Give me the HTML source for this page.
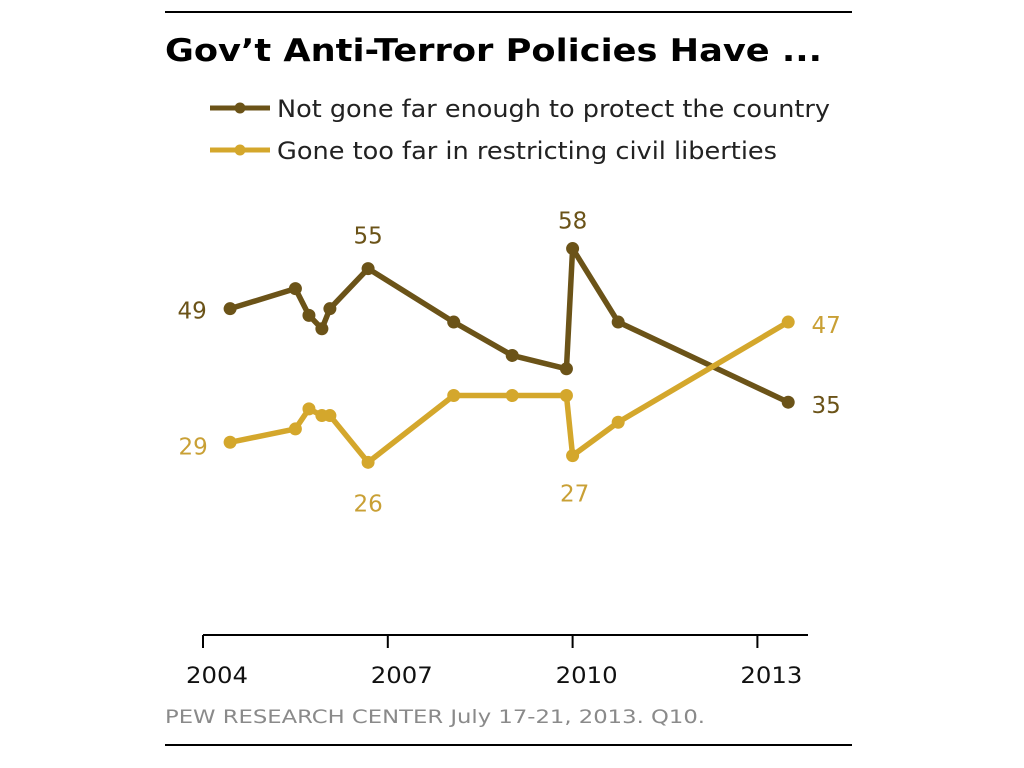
<!DOCTYPE html>
<html><head><meta charset="utf-8"><style>
body{margin:0;background:#fff;width:1024px;height:768px;overflow:hidden}
svg{display:block;font-family:"DejaVu Sans","Liberation Sans",sans-serif}
</style></head><body>
<svg id="chart" width="1024" height="768">
<line x1="165" y1="12" x2="852" y2="12" stroke="#000" stroke-width="2"/>
<text x="165" y="61" font-size="31" font-weight="bold" textLength="657" lengthAdjust="spacingAndGlyphs">Gov’t Anti-Terror Policies Have ...</text>
<g>
<line x1="210" y1="108" x2="270" y2="108" stroke="#6b5318" stroke-width="5"/>
<circle cx="240" cy="108" r="5.5" fill="#6b5318"/>
<text x="277" y="117" font-size="24" fill="#222" textLength="553" lengthAdjust="spacingAndGlyphs">Not gone far enough to protect the country</text>
</g>
<g>
<line x1="210" y1="150" x2="270" y2="150" stroke="#d4a72c" stroke-width="5"/>
<circle cx="240" cy="150" r="5.5" fill="#d4a72c"/>
<text x="277" y="159" font-size="24" fill="#222" textLength="500" lengthAdjust="spacingAndGlyphs">Gone too far in restricting civil liberties</text>
</g>
<g id="axis"></g>
<g id="series"></g>
<line x1="165" y1="745" x2="852" y2="745" stroke="#000" stroke-width="2"/>
<text x="165" y="723" font-size="19" fill="#8a8a8a" textLength="540" lengthAdjust="spacingAndGlyphs">PEW RESEARCH CENTER July 17-21, 2013. Q10.</text>
</svg>
<script>
const dates=[2004.44,2005.5,2005.72,2005.93,2006.06,2006.68,2008.07,2009.02,2009.9,2010.0,2010.74,2013.5];
const notFarEnough=[49,52,48,46,49,55,47,42,40,58,47,35];
const tooFar=[29,31,34,33,33,26,36,36,36,27,32,47];
const tickYears=[2004,2007,2010,2013];
const NS="http://www.w3.org/2000/svg";
const xs=y=>203+(y-2004)*61.6;
const ys=v=>636-v*6.68;
function mk(tag,attrs,parent){const e=document.createElementNS(NS,tag);for(const k in attrs)e.setAttribute(k,attrs[k]);parent.appendChild(e);return e;}
const ax=document.getElementById('axis');
const base=mk('line',{x1:203,y1:635,x2:808,y2:635,stroke:'#000','stroke-width':2},ax);


tickYears.forEach(t=>{
 const l=mk('line',{x1:xs(t),y1:635,x2:xs(t),y2:648,stroke:'#000','stroke-width':2},ax);
 
 
 const tx=mk('text',{x:xs(t)+14,y:683,'font-size':22,'text-anchor':'middle',fill:'#111',textLength:62,lengthAdjust:'spacingAndGlyphs'},ax);
 tx.textContent=t;
 
 
});
const sg=document.getElementById('series');
function drawSeries(vals,color,name){
 const g=mk('g',{},sg);
 
 
 const pts=vals.map((v,i)=>xs(dates[i])+','+ys(v)).join(' ');
 const pl=mk('polyline',{points:pts,fill:'none',stroke:color,'stroke-width':5.5,'stroke-linejoin':'round'},g);
 
 
 vals.forEach((v,i)=>{
  const c=mk('circle',{cx:xs(dates[i]),cy:ys(v),r:6.5,fill:color},g);
  
  
 });
}
drawSeries(notFarEnough,'#6b5318','not-far-enough-series');
drawSeries(tooFar,'#d4a72c','too-far-series');
function lab(txt,x,y,color){
 const t=mk('text',{x:x,y:y,'font-size':23,'text-anchor':'middle',fill:color},sg);
 t.textContent=txt;
 
 
}
const dc='#6b5318',yc='#c9a035';
lab(notFarEnough[0],xs(dates[0])-38,ys(notFarEnough[0])+10,dc);
lab(notFarEnough[5],xs(dates[5]),ys(notFarEnough[5])-25,dc);
lab(notFarEnough[9],xs(dates[9]),ys(notFarEnough[9])-20,dc);
lab(notFarEnough[11],xs(dates[11])+38,ys(notFarEnough[11])+11,dc);
lab(tooFar[0],xs(dates[0])-37,ys(tooFar[0])+12,yc);
lab(tooFar[5],xs(dates[5]),ys(tooFar[5])+49,yc);
lab(tooFar[9],xs(dates[9])+2,ys(tooFar[9])+46,yc);
lab(tooFar[11],xs(dates[11])+38,ys(tooFar[11])+11,yc);
</script>
</body></html>
